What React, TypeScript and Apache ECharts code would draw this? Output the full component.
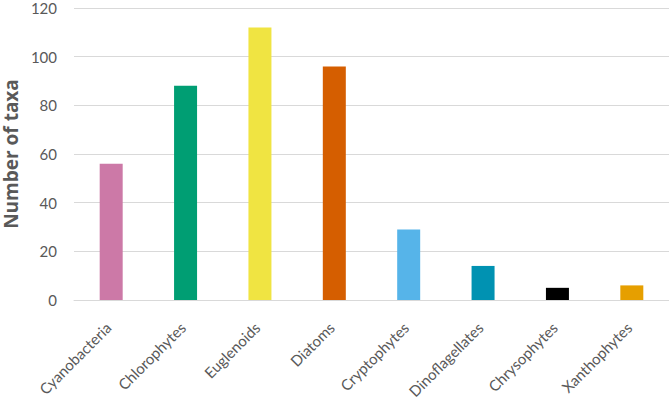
import React, { useEffect, useRef } from "react";
import * as echarts from "echarts";

const categories = ["Cyanobacteria", "Chlorophytes", "Euglenoids", "Diatoms", "Cryptophytes", "Dinoflagellates", "Chrysophytes", "Xanthophytes"];
const values = [56, 88, 112, 96, 29, 14, 5, 6];
const colors = ["#CC79A7", "#009E73", "#F0E442", "#D55E00", "#56B4E9", "#0092B2", "#000000", "#E69F00"];

export default function App() {
  const ref = useRef<HTMLDivElement>(null);
  useEffect(() => {
    const chart = echarts.init(ref.current!, null, { renderer: "svg" });
    const font = "Lato, 'Open Sans', sans-serif";
    chart.setOption({
      animation: false,
      textStyle: { fontFamily: font },
      grid: { left: 74, right: 0, top: 8, bottom: 101, containLabel: false, outerBoundsMode: "none" },
      xAxis: {
        type: "category",
        data: categories,
        axisLine: { lineStyle: { color: "#d9d9d9", width: 1 } },
        axisTick: { show: false },
        axisLabel: {
          rotate: 45,
          color: "#595959",
          fontSize: 15,
          fontFamily: font,
          margin: 22,
          padding: [0, 4, 0, 0],
          interval: 0,
        },
      },
      yAxis: {
        type: "value",
        min: 0,
        max: 120,
        interval: 20,
        name: "Number of taxa",
        nameLocation: "middle",
        nameGap: 49,
        nameTextStyle: { color: "#595959", fontSize: 19, fontWeight: "bold", fontFamily: "'Open Sans', Lato, sans-serif" },
        axisLine: { show: false },
        axisTick: { show: false },
        axisLabel: { color: "#595959", fontSize: 15, fontFamily: font, margin: 17 },
        splitLine: { lineStyle: { color: "#d9d9d9", width: 1 } },
      },
      series: [
        {
          type: "bar",
          barWidth: 23,
          data: values.map((v, i) => ({ value: v, itemStyle: { color: colors[i] } })),
        },
      ],
    });
    return () => chart.dispose();
  }, []);
  return (
    <div
      ref={ref}
      style={{ position: "fixed", left: 0, top: 0, width: 669, height: 401, background: "#fff" }}
    />
  );
}
